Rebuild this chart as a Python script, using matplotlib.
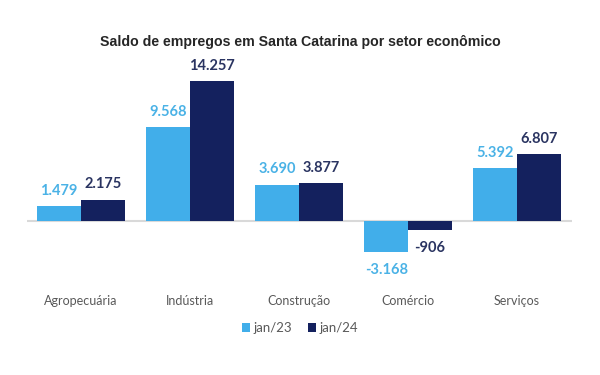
import matplotlib
matplotlib.use("Agg")
import matplotlib.pyplot as plt
import numpy as np

categories = ["Agropecuária", "Indústria", "Construção", "Comércio", "Serviços"]
jan23 = [1479, 9568, 3690, -3168, 5392]
jan24 = [2175, 14257, 3877, -906, 6807]
series_names = ["jan/23", "jan/24"]

def fmt(v):
    s = f"{abs(v):,}".replace(",", ".")
    return ("-" if v < 0 else "") + s

light = "#41AEEA"
dark = "#14215E"
light_txt = "#4AB2E6"
dark_txt = "#2A3461"

fig = plt.figure(figsize=(6, 3.75), dpi=100)
H = 375
ax = fig.add_axes([26.5/600, 1 - 285/H, (571.5-26.5)/600, (285-50)/H])

x = np.arange(len(categories))
w = 0.4
b1 = ax.bar(x - w/2, jan23, w, color=light, label=series_names[0], zorder=2)
b2 = ax.bar(x + w/2, jan24, w, color=dark, label=series_names[1], zorder=2)

upp = 14257 / 140.0
ax.set_ylim(-(285-221)*upp, (221-50)*upp)
ax.set_xlim(-0.5, len(categories) - 0.5)
ax.axhline(0, color="#D9D9D9", lw=1.5, zorder=1)

for bars, vals, col in ((b1, jan23, light_txt), (b2, jan24, dark_txt)):
    for bar, v in zip(bars, vals):
        cx = bar.get_x() + bar.get_width()/2
        if v >= 0:
            ax.annotate(fmt(v), (cx, v), xytext=(0, 6), textcoords="offset points",
                        ha="center", va="bottom", fontsize=10.5, fontweight="bold",
                        color=col, family="Lato")
        else:
            ax.annotate(fmt(v), (cx, v), xytext=(0, -8), textcoords="offset points",
                        ha="center", va="top", fontsize=10.5, fontweight="bold",
                        color=col, family="Lato")

ax.set_xticks(x)
ax.set_xticklabels(categories, fontsize=9, color="#595959", family="Lato")
ax.tick_params(axis="x", length=0, pad=7)
ax.set_yticks([])
for s in ax.spines.values():
    s.set_visible(False)

fig.text(0.5, 1 - 42/H, "Saldo de empregos em Santa Catarina por setor econômico",
         ha="center", va="center", fontsize=10.2, fontweight="bold",
         color="#262626", family="Liberation Sans")

leg = fig.legend(handles=[b1, b2], labels=series_names, loc="center",
                 bbox_to_anchor=(0.5, 1 - 328/H), ncol=2, frameon=False,
                 prop={"family": "Lato", "size": 9.5}, handlelength=0.6,
                 handleheight=0.6, handletextpad=0.3, columnspacing=1.2)
for t in leg.get_texts():
    t.set_color("#595959")

fig.savefig("out.png", dpi=100, facecolor="white")
